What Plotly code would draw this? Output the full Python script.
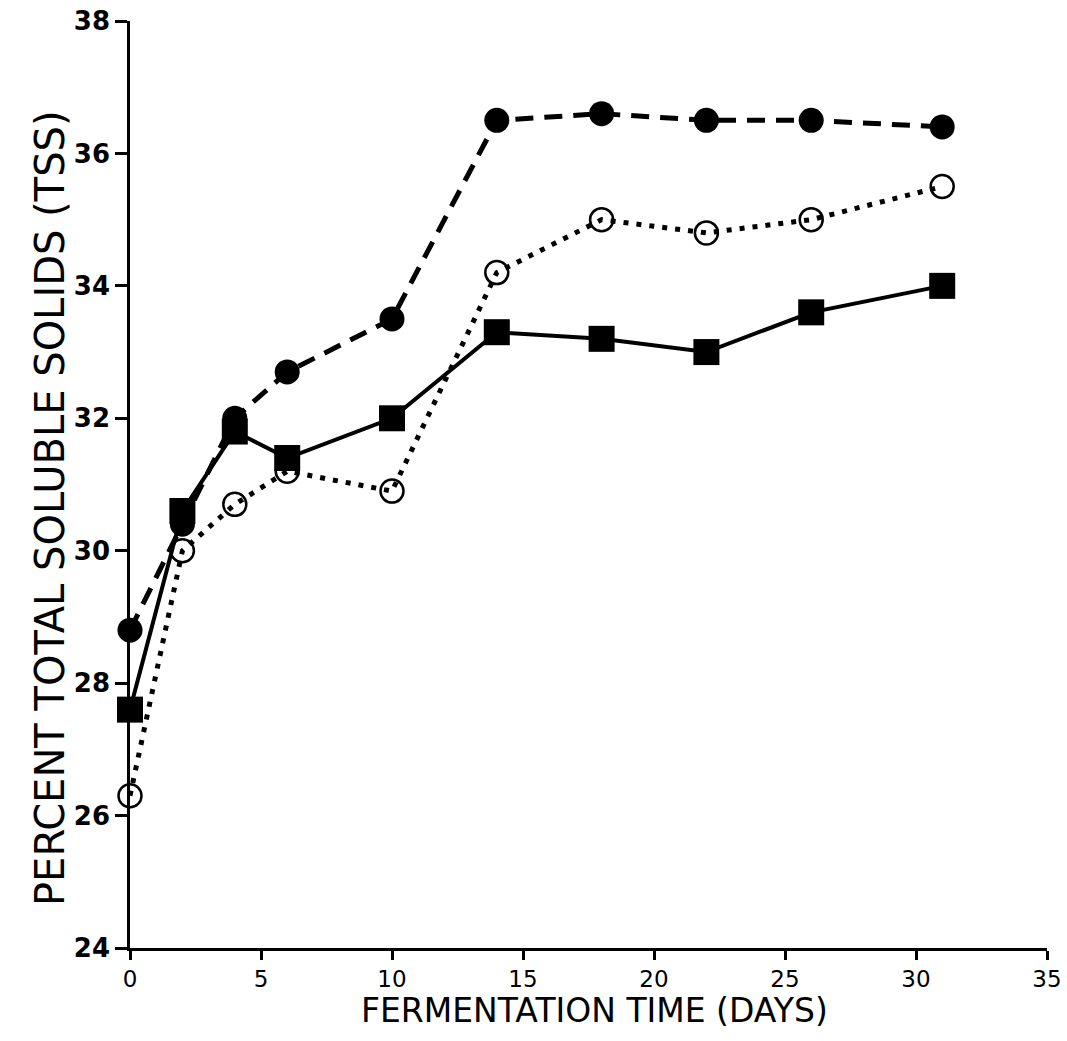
import plotly.graph_objects as go

days = [0, 2, 4, 6, 10, 14, 18, 22, 26, 31]
tss_filled = [28.8, 30.4, 32.0, 32.7, 33.5, 36.5, 36.6, 36.5, 36.5, 36.4]
tss_open = [26.3, 30.0, 30.7, 31.2, 30.9, 34.2, 35.0, 34.8, 35.0, 35.5]
tss_square = [27.6, 30.6, 31.8, 31.4, 32.0, 33.3, 33.2, 33.0, 33.6, 34.0]

x_ticks = [0, 5, 10, 15, 20, 25, 30, 35]
y_ticks = [24, 26, 28, 30, 32, 34, 36, 38]

x_title = "FERMENTATION TIME (DAYS)"
y_title = "PERCENT TOTAL SOLUBLE SOLIDS (TSS)"

fig = go.Figure()
fig.add_trace(go.Scatter(
    x=days, y=tss_filled, mode="lines+markers", cliponaxis=False,
    line=dict(color="black", width=5, dash="18px,11px"),
    marker=dict(symbol="circle", size=25, color="black"),
    showlegend=False))
fig.add_trace(go.Scatter(
    x=days, y=tss_open, mode="lines+markers", cliponaxis=False,
    line=dict(color="black", width=5, dash="5px,8px"),
    marker=dict(symbol="circle-open", size=23, color="black", line=dict(width=2.5)),
    showlegend=False))
fig.add_trace(go.Scatter(
    x=days, y=tss_square, mode="lines+markers", cliponaxis=False,
    line=dict(color="black", width=4),
    marker=dict(symbol="square", size=26, color="black"),
    showlegend=False))

L, R, T, B = 130, 20, 21, 93
W, H = 1067, 1041
pw, ph = W - L - R, H - T - B

fig.update_layout(
    width=W, height=H,
    margin=dict(l=L, r=R, t=T, b=B, autoexpand=False),
    paper_bgcolor="white", plot_bgcolor="white",
    font=dict(family="DejaVu Sans", color="black"),
    annotations=[
        dict(text=x_title, xref="paper", yref="paper",
             x=(594 - L) / pw, y=-(1010 - (T + ph)) / ph,
             yanchor="middle", xanchor="center", showarrow=False,
             font=dict(size=33, family="DejaVu Sans", color="black")),
        dict(text=y_title, xref="paper", yref="paper",
             x=-(L - 50) / pw, y=1 - (508 - T) / ph,
             xanchor="center", yanchor="middle", textangle=-90, showarrow=False,
             font=dict(size=40, family="DejaVu Sans", color="black")),
    ],
)
fig.update_xaxes(
    range=[0, 35], tickvals=x_ticks, ticktext=[str(v) for v in x_ticks],
    showgrid=False, zeroline=False, showline=True, linecolor="black", linewidth=2.5,
    ticks="outside", ticklen=9, tickwidth=2.5, tickcolor="black", automargin=False,
    ticklabeloverflow="allow",
    tickfont=dict(size=23, family="DejaVu Sans"),
)
fig.update_yaxes(
    range=[24, 38], tickvals=y_ticks, ticktext=["<b>%d</b>" % v for v in y_ticks],
    showgrid=False, zeroline=False, showline=True, linecolor="black", linewidth=2.5,
    ticks="outside", ticklen=12, tickwidth=2.5, tickcolor="black", automargin=False,
    ticklabeloverflow="allow",
    tickfont=dict(size=26, family="DejaVu Sans"),
)

fig.write_html("out.html", config={"displayModeBar": False},
               post_script="document.body.style.margin='0';")
